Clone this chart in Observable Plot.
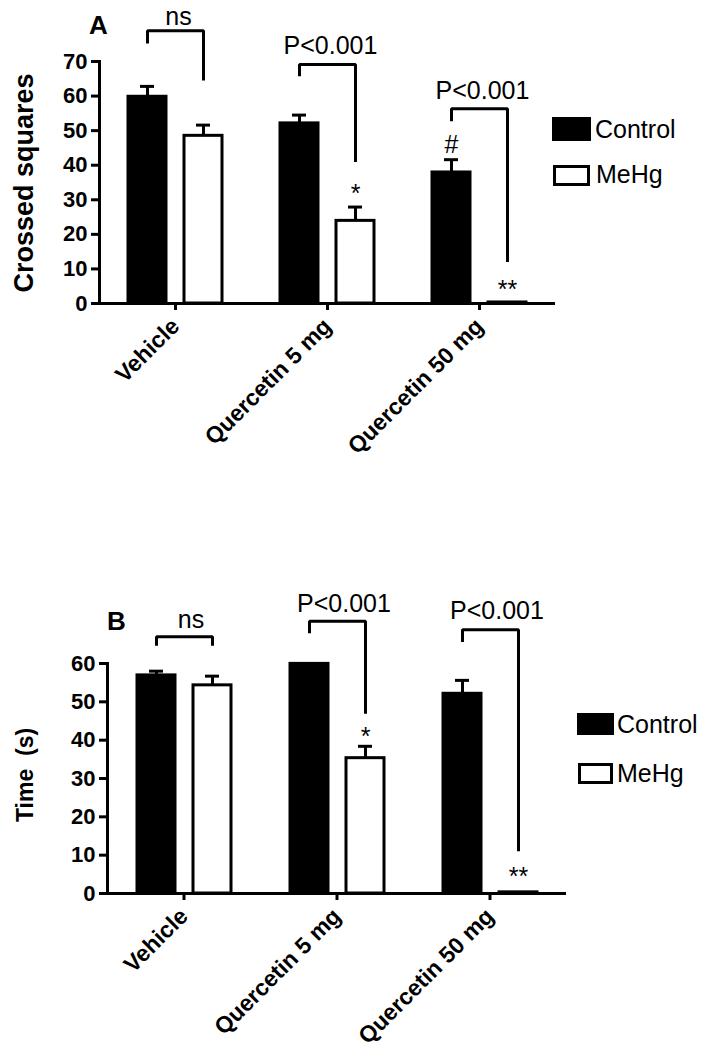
<!DOCTYPE html>
<html>
<head>
<meta charset="utf-8">
<script src="https://cdn.jsdelivr.net/npm/d3@7"></script>
<script src="https://cdn.jsdelivr.net/npm/@observablehq/plot@0.6"></script>
<style>
  body { margin: 0; background: #fff; font-family: "Liberation Sans", Arial, Helvetica, sans-serif; }
  #root { position: relative; width: 704px; height: 1050px; overflow: hidden; background: #fff; }
  .panel { position: absolute; left: 0; }
  .panel svg { overflow: visible; }
  .txt { position: absolute; white-space: pre; line-height: 1; color: #000; }
  .bold { font-weight: bold; }
  .ylab { position: absolute; white-space: pre; line-height: 1; font-weight: bold; transform: translate(-50%, -50%) rotate(-90deg); }
  .sw { position: absolute; box-sizing: border-box; }
  .sw.fill { background: #000; }
  .sw.open { background: #fff; border: 3.5px solid #000; }
</style>
</head>
<body>
<div id="root"></div>
<script>
// ---------- shared categories ----------
const categories = ["Vehicle", "Quercetin 5 mg", "Quercetin 50 mg"];
const groups = ["Control", "MeHg"];

// ---------- Panel A: Crossed squares ----------
const aControl    = [59.8, 52.1, 37.9];
const aControlSem = [3.0, 2.4, 3.7];
const aMehg       = [48.5, 23.9, 0.3];
const aMehgSem    = [3.1, 4.0, 0];
const aTicks      = [0, 10, 20, 30, 40, 50, 60, 70];
const aBracketLow1 = [75.2, 65.7, 52.7];
const aBracketTop  = [78.9, 69.1, 56.3];
const aBracketLow2 = [64.5, 40.9, 12.0];
const aLabels  = ["ns", "P<0.001", "P<0.001"];
const aLabelY  = [82.9, 74.6, 61.6];
const aSigCat   = ["Quercetin 5 mg", "Quercetin 50 mg", "Quercetin 50 mg"];
const aSigGroup = ["MeHg", "Control", "MeHg"];
const aSigText  = ["*", "#", "**"];
const aSigY     = [31.7, 45.8, 3.9];

// ---------- Panel B: Time (s) ----------
const bControl    = [56.9, 59.9, 52.1];
const bControlSem = [1.1, 0, 3.5];
const bMehg       = [54.3, 35.3, 0.3];
const bMehgSem    = [2.4, 3.1, 0];
const bTicks      = [0, 10, 20, 30, 40, 50, 60];
const bBracketLow1 = [64.6, 67.9, 65.6];
const bBracketTop  = [67.0, 71.0, 68.8];
const bBracketLow2 = [64.6, 46.9, 11.0];
const bLabels  = ["ns", "P<0.001", "P<0.001"];
const bLabelY  = [71.3, 75.6, 73.7];
const bSigCat   = ["Quercetin 5 mg", "Quercetin 50 mg"];
const bSigGroup = ["MeHg", "MeHg"];
const bSigText  = ["*", "**"];
const bSigY     = [40.9, 4.3];

const FONT = "Liberation Sans, Arial, Helvetica, sans-serif";

function panel(cfg) {
  const rows = [];
  categories.forEach((c, i) => {
    rows.push({category: c, group: "Control", mean: cfg.control[i], sem: cfg.controlSem[i]});
    rows.push({category: c, group: "MeHg", mean: cfg.mehg[i], sem: cfg.mehgSem[i]});
  });
  const err = rows.filter(d => d.sem > 0);
  const brackets = categories.flatMap((c, i) => [
    {category: c, group: "Control", y: cfg.low1[i], id: c},
    {category: c, group: "Control", y: cfg.top[i], id: c},
    {category: c, group: "MeHg", y: cfg.top[i], id: c},
    {category: c, group: "MeHg", y: cfg.low2[i], id: c}
  ]);
  const labels = categories.map((c, i) => ({category: c, text: cfg.labels[i], y: cfg.labelY[i]}));
  const sig = cfg.sigText.map((t, i) => ({category: cfg.sigCat[i], group: cfg.sigGroup[i], text: t, y: cfg.sigY[i]}));

  return Plot.plot({
    width: 704,
    height: cfg.height,
    marginLeft: cfg.marginLeft,
    marginRight: cfg.marginRight,
    marginTop: cfg.marginTop,
    marginBottom: cfg.marginBottom,
    style: {fontFamily: FONT, background: "transparent", color: "#000", overflow: "visible"},
    fx: {domain: categories, padding: 0, label: null},
    x: {domain: groups, paddingInner: 0.33, paddingOuter: 0.51, axis: null},
    y: {domain: cfg.yDomain, axis: null},
    color: {domain: groups, range: ["#000", "#fff"]},
    marks: [
      Plot.barY(rows, {fx: "category", x: "group", y: "mean", fill: "group", stroke: "#000", strokeWidth: 3}),
      Plot.ruleX(err, {fx: "category", x: "group", y1: "mean", y2: d => d.mean + d.sem, stroke: "#000", strokeWidth: 3}),
      Plot.tickY(err, {fx: "category", x: "group", y: d => d.mean + d.sem, stroke: "#000", strokeWidth: 3, insetLeft: 12, insetRight: 12}),
      Plot.ruleY([0], {stroke: "#000", strokeWidth: 3}),
      Plot.frame({anchor: "left", facetAnchor: "left", stroke: "#000", strokeWidth: 3}),
      Plot.axisY({ticks: cfg.ticks, tickSize: 8, tickPadding: 4, strokeWidth: 3, fontSize: 22, fontWeight: "bold", label: null, tickFormat: d => String(d)}),
      Plot.axisFx({anchor: "bottom", tickSize: 7, tickPadding: 12, strokeWidth: 3, tickRotate: -45, fontSize: 23, fontWeight: "bold", label: null}),
      Plot.line(brackets, {fx: "category", x: "group", y: "y", z: "id", stroke: "#000", strokeWidth: 3, strokeLinejoin: "miter", strokeLinecap: "butt"}),
      Plot.text(labels, {fx: "category", y: "y", text: "text", fontSize: 25, dx: cfg.labelDx, fill: "#000"}),
      Plot.text(sig, {fx: "category", x: "group", y: "y", text: "text", fontSize: 25, fill: "#000"})
    ]
  });
}

const root = document.getElementById("root");

function place(node, top) {
  const wrap = document.createElement("div");
  wrap.className = "panel";
  wrap.style.top = top + "px";
  wrap.appendChild(node);
  root.appendChild(wrap);
}

place(panel({
  height: 480, marginLeft: 99, marginRight: 149, marginTop: 61, marginBottom: 177,
  yDomain: [0, 70], ticks: aTicks,
  control: aControl, controlSem: aControlSem, mehg: aMehg, mehgSem: aMehgSem,
  low1: aBracketLow1, top: aBracketTop, low2: aBracketLow2,
  labels: aLabels, labelY: aLabelY, labelDx: 3,
  sigCat: aSigCat, sigGroup: aSigGroup, sigText: aSigText, sigY: aSigY
}), 0);

place(panel({
  height: 510, marginLeft: 107, marginRight: 138, marginTop: 123, marginBottom: 157,
  yDomain: [0, 60], ticks: bTicks,
  control: bControl, controlSem: bControlSem, mehg: bMehg, mehgSem: bMehgSem,
  low1: bBracketLow1, top: bBracketTop, low2: bBracketLow2,
  labels: bLabels, labelY: bLabelY, labelDx: 7,
  sigCat: bSigCat, sigGroup: bSigGroup, sigText: bSigText, sigY: bSigY
}), 540);

// ---------- panel letters, y labels and legends (HTML text) ----------
function addText(text, cls, left, top, size) {
  const d = document.createElement("div");
  d.className = cls;
  d.textContent = text;
  d.style.left = left + "px";
  d.style.top = top + "px";
  d.style.fontSize = size + "px";
  root.appendChild(d);
}
function addSwatch(cls, left, top, w, h) {
  const d = document.createElement("div");
  d.className = "sw " + cls;
  Object.assign(d.style, {left: left + "px", top: top + "px", width: w + "px", height: h + "px"});
  root.appendChild(d);
}

addText("A", "txt bold", 89, 12, 26);
addText("B", "txt bold", 107, 608, 26);
addText("Crossed squares", "ylab", 24, 183, 27);
addText("Time  (s)", "ylab", 25, 775, 23);

// legend A
addSwatch("fill", 552, 117, 39, 24);
addText(groups[0], "txt", 595, 116.5, 25);
addSwatch("open", 553, 165, 37, 21);
addText(groups[1], "txt", 596, 162, 25);
// legend B
addSwatch("fill", 577, 713, 37, 22);
addText(groups[0], "txt", 617, 712, 25);
addSwatch("open", 578, 763, 35, 20.5);
addText(groups[1], "txt", 617, 760.5, 25);
</script>
</body>
</html>
